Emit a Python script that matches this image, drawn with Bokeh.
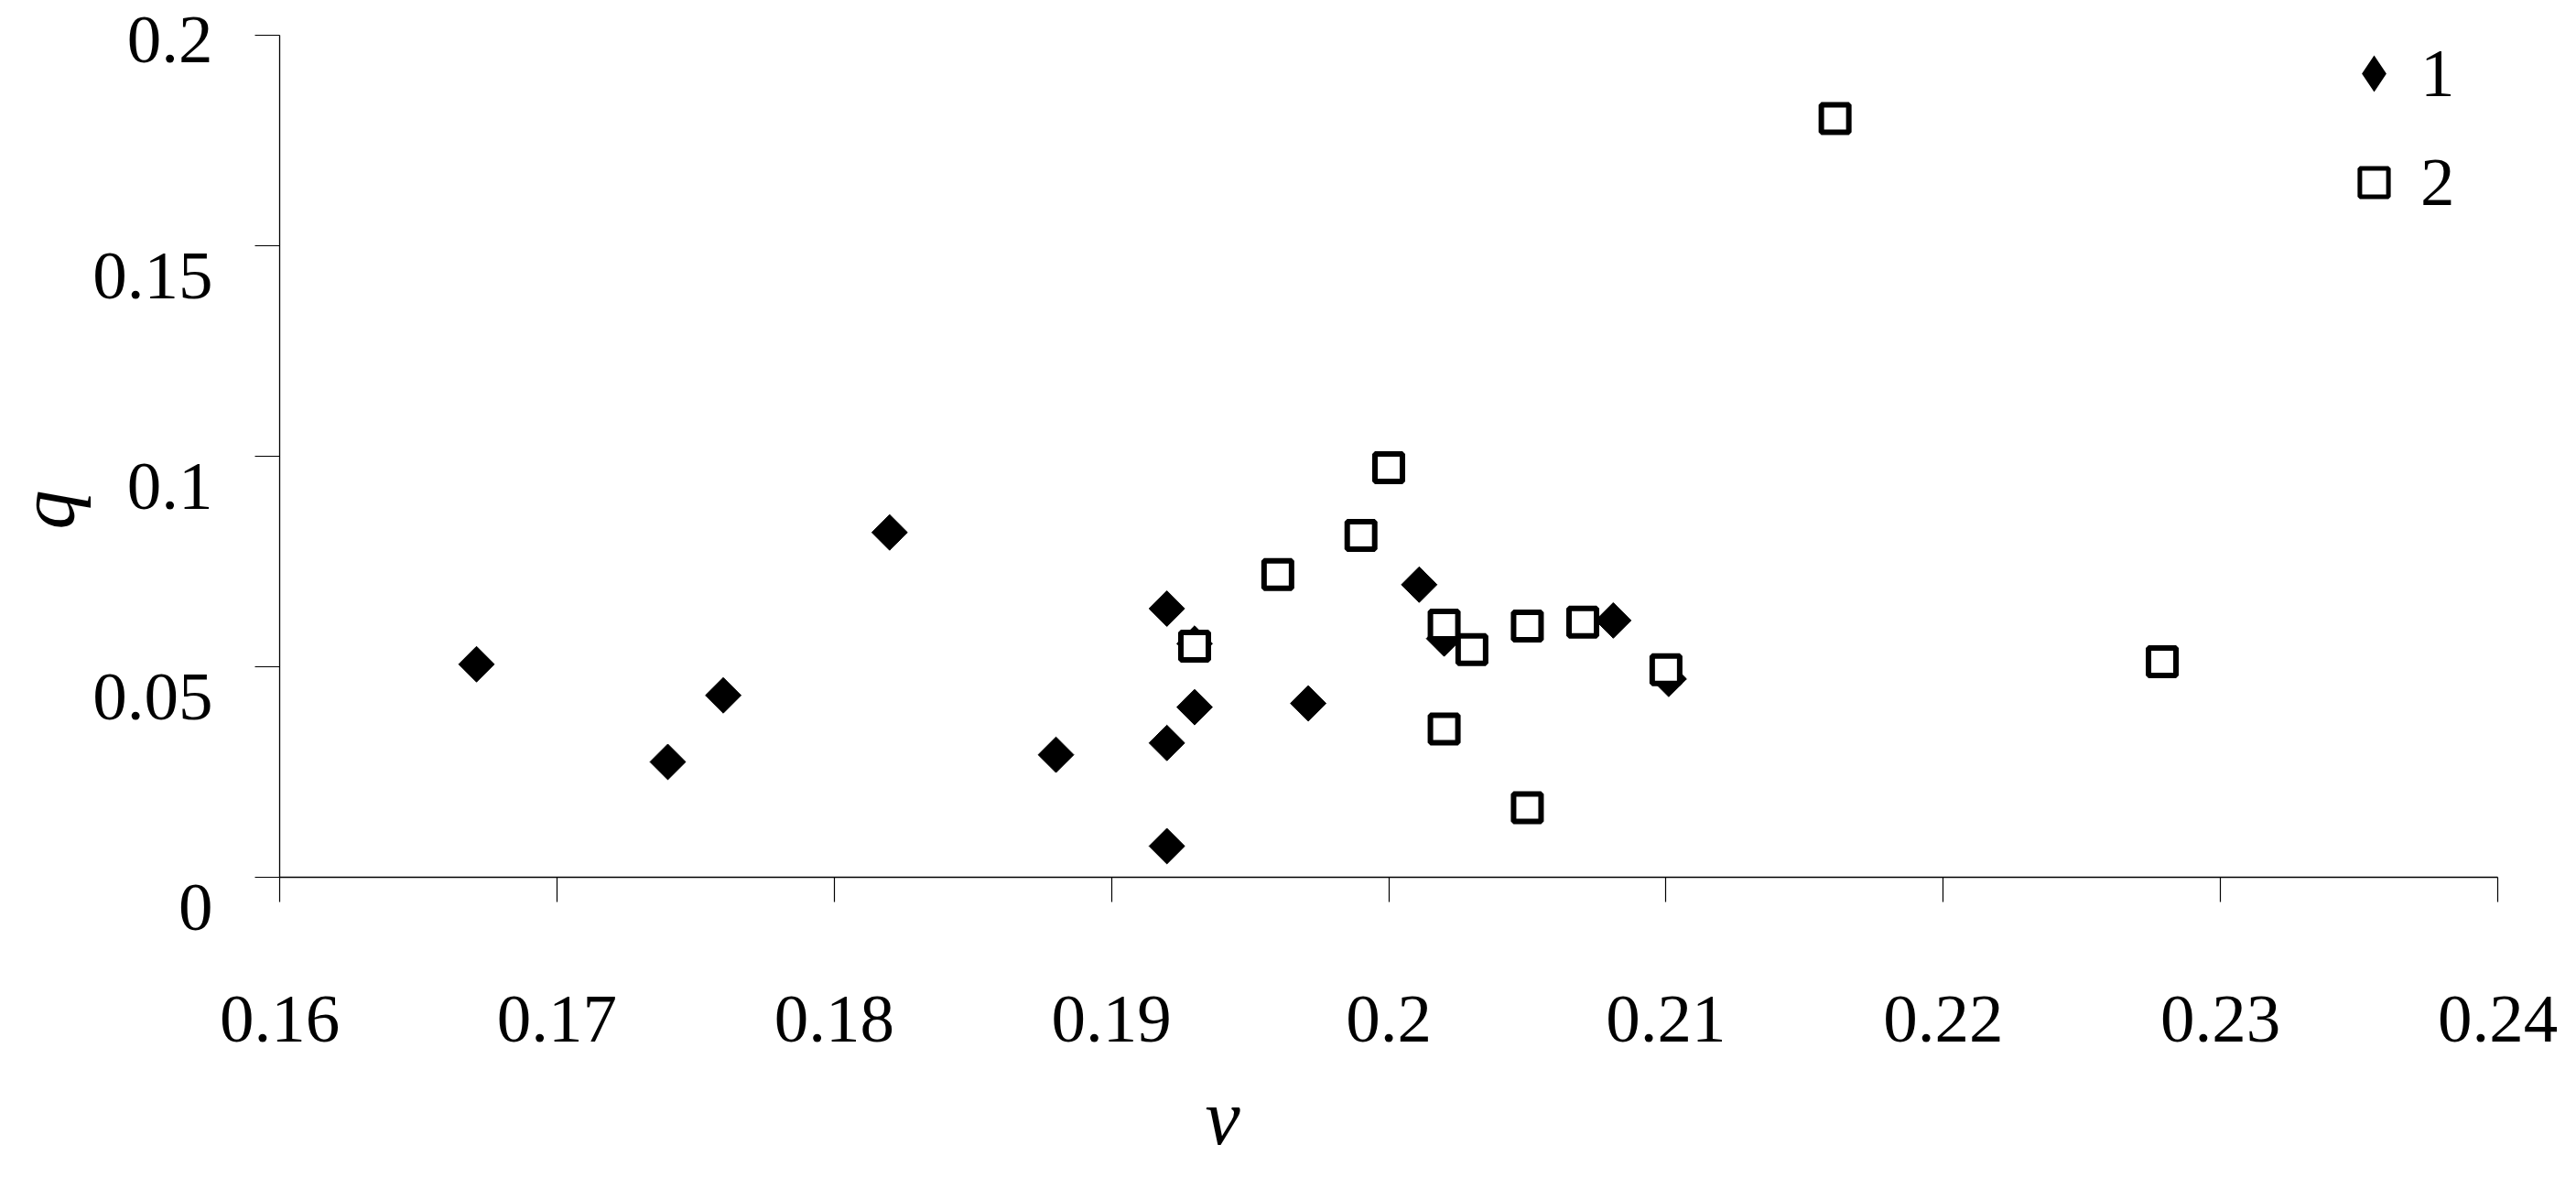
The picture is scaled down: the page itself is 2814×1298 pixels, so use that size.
import math
from bokeh.plotting import figure
from bokeh.models import Range1d, FixedTicker, Legend, LegendItem, Title
from bokeh.embed import file_html
from bokeh.resources import INLINE

# ---- data ----
series_names = ["1", "2"]
v1 = [0.1671, 0.1740, 0.1760, 0.1820, 0.1880, 0.1920, 0.1920, 0.1920,
      0.1930, 0.1930, 0.1971, 0.2011, 0.2020, 0.2081, 0.2101]
q1 = [0.0506, 0.0274, 0.0432, 0.0819, 0.0291, 0.0638, 0.0319, 0.0074,
      0.0404, 0.0555, 0.0413, 0.0695, 0.0567, 0.0610, 0.0471]
v2 = [0.1930, 0.1960, 0.1990, 0.2000, 0.2020, 0.2030, 0.2020, 0.2050,
      0.2050, 0.2070, 0.2100, 0.2161, 0.2279]
q2 = [0.0549, 0.0719, 0.0812, 0.0973, 0.0599, 0.0541, 0.0352, 0.0597,
      0.0165, 0.0606, 0.0493, 0.1802, 0.0512]
x_ticks = [0.16, 0.17, 0.18, 0.19, 0.20, 0.21, 0.22, 0.23, 0.24]
x_tick_labels = ["0.16", "0.17", "0.18", "0.19", "0.2", "0.21", "0.22", "0.23", "0.24"]
y_ticks = [0.0, 0.05, 0.10, 0.15, 0.20]
y_tick_labels = ["0", "0.05", "0.1", "0.15", "0.2"]
x_title = "v"
y_title = "q"

FONT = "Liberation Serif"

p = figure(width=2814, height=1298, output_backend="svg", toolbar_location=None,
           x_range=Range1d(x_ticks[0], x_ticks[-1]), y_range=Range1d(y_ticks[0], y_ticks[-1]),
           min_border_left=303, min_border_right=86, min_border_top=38, min_border_bottom=339)
p.outline_line_color = None
p.xgrid.visible = False
p.ygrid.visible = False
p.background_fill_color = "white"

r1 = p.scatter(v1, q1, marker="square", size=27.5, angle=math.pi / 4,
               fill_color="black", line_color="black", line_width=1)
r2 = p.scatter(v2, q2, marker="square", size=30,
               fill_color="white", line_color="black", line_width=6)
# legend keys: one undrawn (NaN) point each, only used to paint the legend symbols
k1 = p.scatter(x=[math.nan], y=[math.nan], marker="diamond",
               fill_color="black", line_color="black", line_width=5, line_join="miter")
k2 = p.scatter(x=[math.nan], y=[math.nan], marker="square",
               fill_color="white", line_color="black", line_width=5)

for ax, ticks in ((p.xaxis[0], x_ticks), (p.yaxis[0], y_ticks)):
    ax.ticker = FixedTicker(ticks=ticks)
    ax.axis_line_color = "black"
    ax.axis_line_width = 1.3
    ax.major_tick_line_color = "black"
    ax.major_tick_line_width = 1.2
    ax.major_tick_in = 0
    ax.major_tick_out = 27
    ax.minor_tick_line_color = None
    ax.major_label_text_font = FONT
    ax.major_label_text_font_size = "75px"
    ax.major_label_text_color = "black"

p.xaxis.major_label_overrides = dict(zip(x_ticks, x_tick_labels))
# y labels sit a little below their ticks in the reference (the top one is already
# pushed down by the canvas edge)
p.yaxis.major_label_overrides = {t: ("" if t == y_ticks[-1] else "\n") + s
                                 for t, s in zip(y_ticks, y_tick_labels)}
p.yaxis.major_label_text_line_height = 0.77
p.xaxis.major_label_standoff = 103
p.yaxis.major_label_standoff = 46

p.add_layout(Title(text=x_title, align="left", offset=1011, standoff=60,
                   text_font=FONT, text_font_style="italic", text_font_size="86px",
                   text_color="black"), "below")
p.add_layout(Title(text=y_title, align="left", offset=380, standoff=0,
                   text_font=FONT, text_font_style="italic", text_font_size="86px",
                   text_color="black"), "left")

legend = Legend(items=[LegendItem(label=series_names[0], renderers=[k1]),
                       LegendItem(label=series_names[1], renderers=[k2])],
                location=(2249, 714), orientation="vertical",
                glyph_width=78, glyph_height=78, label_height=90, spacing=29,
                padding=0, margin=0, label_standoff=12,
                label_text_font=FONT, label_text_font_size="75px",
                label_text_color="black",
                border_line_color=None, background_fill_alpha=0)
p.add_layout(legend)

open("out.html", "w").write(file_html(p, INLINE))
